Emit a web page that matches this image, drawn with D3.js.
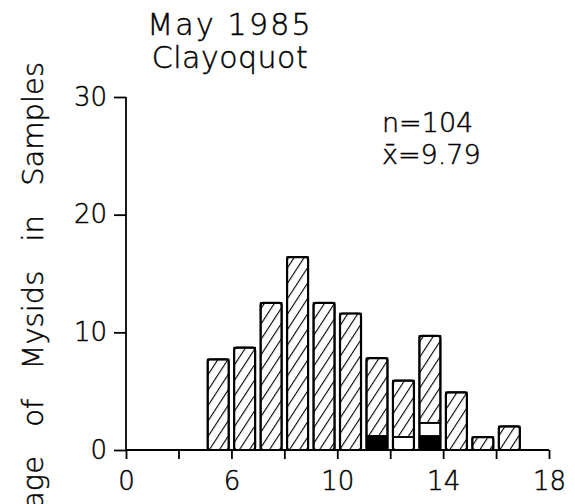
<!DOCTYPE html>
<html>
<head>
<meta charset="utf-8">
<script src="https://cdn.jsdelivr.net/npm/d3@7"></script>
<style>
  html, body { margin: 0; padding: 0; background: #fff; }
  svg { display: block; }
  text { font-family: "DejaVu Sans", "Liberation Sans", sans-serif; font-weight: 200; fill: #000; stroke: #000; stroke-width: 0.45px; }
</style>
</head>
<body>
<svg id="chart" width="575" height="504"></svg>
<script>
// Length classes (mm), lower bound of each 1-mm bin
const lengthClass = [5, 6, 7, 8, 9, 10, 11, 12, 13, 14, 15, 16];
// Percentage of mysids in each class, split by group
const hatchedPct = [7.7, 8.7, 12.5, 16.4, 12.5, 11.6, 6.6, 4.8, 7.4, 4.9, 1.1, 2.0];
const openPct    = [0, 0, 0, 0, 0, 0, 0, 1.1, 1.1, 0, 0, 0];
const solidPct   = [0, 0, 0, 0, 0, 0, 1.2, 0, 1.2, 0, 0, 0];
const xTicks = [0, 4, 6, 8, 10, 12, 14, 16, 18];
const xTickLabels = { 0: "0", 6: "6", 10: "10", 14: "14", 18: "18" };
const yTicks = [0, 10, 20, 30];
const titleLines = ["May 1985", "Clayoquot"];
const yTitle = "Percentage of Mysids in Samples";
const nLabel = "n=104";
const meanLabel = "9.79";

const svg = d3.select("#chart");

// x axis is compressed between 0 and 4
const x = d3.scaleLinear().domain([0, 4, 18]).range([126, 178.5, 549]);
const y = d3.scaleLinear().domain([0, 30]).range([450, 97]);

// diagonal hatching
const defs = svg.append("defs");
const pat = defs.append("pattern")
  .attr("id", "hatch")
  .attr("patternUnits", "userSpaceOnUse")
  .attr("width", 8.4).attr("height", 10)
  .attr("patternTransform", "rotate(33)");
pat.append("line")
  .attr("x1", 0).attr("y1", 0).attr("x2", 0).attr("y2", 10)
  .attr("stroke", "#000").attr("stroke-width", 2.2);

const rows = lengthClass.map((c, i) => ({
  c, solid: solidPct[i], open: openPct[i], hatched: hatchedPct[i]
}));
const keys = ["solid", "open", "hatched"];
const fills = { solid: "#000", open: "#fff", hatched: "url(#hatch)" };
const stacked = d3.stack().keys(keys)(rows);

const barW = 21;
const bars = svg.append("g");
stacked.forEach(layer => {
  bars.selectAll(null)
    .data(layer.filter(d => d[1] - d[0] > 0))
    .join("rect")
    .attr("x", d => x(d.data.c + 0.5) - barW / 2)
    .attr("width", barW)
    .attr("y", d => y(d[1]))
    .attr("height", d => y(d[0]) - y(d[1]))
    .attr("fill", fills[layer.key])
    .attr("stroke", "#000")
    .attr("stroke-width", 1.6);
});
// rounded outline of each whole bar
bars.selectAll(null)
  .data(rows)
  .join("rect")
  .attr("x", d => x(d.c + 0.5) - barW / 2)
  .attr("width", barW)
  .attr("y", d => y(d.solid + d.open + d.hatched))
  .attr("height", d => y(0) - y(d.solid + d.open + d.hatched))
  .attr("rx", 2.5)
  .attr("fill", "none")
  .attr("stroke", "#000")
  .attr("stroke-width", 2.2);

// axes
const xAxis = d3.axisBottom(x)
  .tickValues(xTicks)
  .tickSize(9)
  .tickPadding(13)
  .tickFormat(d => xTickLabels[d] || "");
const gx = svg.append("g").attr("transform", `translate(0,${y(0)})`).call(xAxis);
gx.select(".domain").attr("d", `M${x(0)},0H${x(18)}`);

const yAxis = d3.axisLeft(y)
  .tickValues(yTicks)
  .tickSize(12)
  .tickPadding(7)
  .tickFormat(d3.format("d"));
const gy = svg.append("g").attr("transform", `translate(${x(0)},0)`).call(yAxis);
gy.select(".domain").attr("d", `M0,${y(30)}V${y(0)}`);

[gx, gy].forEach(g => {
  g.selectAll("path, line").attr("stroke", "#000").attr("stroke-width", 1.8);
  g.selectAll("text")
    .style("font-family", '"DejaVu Sans", "Liberation Sans", sans-serif')
    .style("font-weight", 200)
    .style("font-size", "26px")
    .attr("fill", "#000");
});
gx.selectAll("text").attr("dy", "0.71em");

// titles
svg.selectAll(".title")
  .data(titleLines)
  .join("text")
  .attr("class", "title")
  .attr("x", 230)
  .attr("y", (d, i) => 35 + i * 33)
  .attr("text-anchor", "middle")
  .style("font-size", "30px")
  .style("letter-spacing", (d, i) => i === 0 ? "2.2px" : "0.5px")
  .text(d => d);

// y axis title
svg.append("text")
  .attr("transform", "translate(43,62) rotate(-90)")
  .attr("text-anchor", "end")
  .style("font-size", "29px")
  .style("word-spacing", "20px")
  .text(yTitle);

// sample size and mean
svg.append("text")
  .attr("x", 382).attr("y", 132)
  .style("font-size", "27px")
  .text(nLabel);
const mean = svg.append("text")
  .attr("x", 382).attr("y", 164)
  .style("font-size", "27px");
mean.append("tspan").text("x\u0304");
mean.append("tspan").text("=" + meanLabel);
</script>
</body>
</html>
